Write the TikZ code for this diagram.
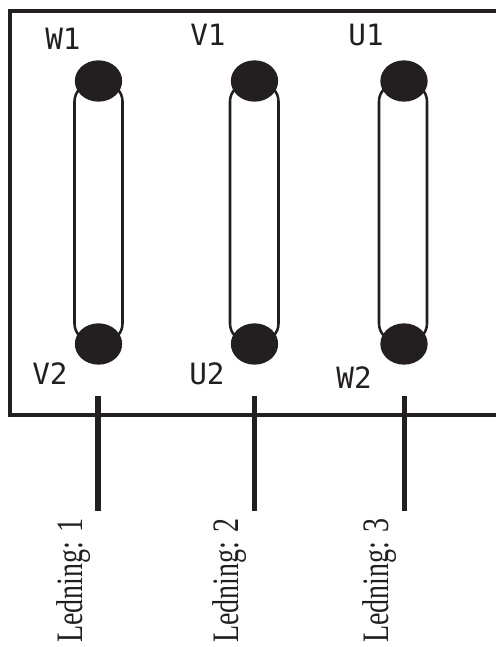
\documentclass[tikz,border=0pt]{standalone}
\usepackage{fontspec}
\usetikzlibrary{calc,shapes.geometric}
\newfontfamily\ledfont[FakeStretch=0.75]{Liberation Serif}
\newfontfamily\termfont{DejaVu Sans Mono}
\definecolor{ink}{HTML}{231F20}

\begin{document}
\begin{tikzpicture}[x=0.75pt,y=-0.75pt,
  terminal/.style={draw=none,fill=ink,ellipse,minimum width=35.5pt,minimum height=31pt,inner sep=0pt},
  termlabel/.style={text=ink,font=\termfont\fontsize{22}{22}\selectfont,inner sep=0pt},
  wirelabel/.style={text=ink,font=\ledfont\fontsize{28}{28}\selectfont,rotate=90,anchor=base west,inner sep=0pt},
  loopline/.style={draw=ink,line width=1.9pt,rounded corners=13pt},
  wire/.style={draw=ink,line width=4pt}]

% Page
\useasboundingbox (0,0) rectangle (496,647);

% Housing, open on the right
\coordinate (TR) at (497,11);
\coordinate (TL) at (10,11);
\coordinate (BL) at (10,415);
\coordinate (BR) at (497,415);
\draw[draw=ink,line width=2.3pt] (TR) -- (TL) -- (BL) -- (BR);

% Loops behind the terminals
\draw[loopline] (74.5,84) rectangle (122.5,341);
\draw[loopline] (230,84) rectangle (278.5,341);
\draw[loopline] (379,84) rectangle (427,341);

% Terminals
\node[terminal] (W1) at (98.5,81) {};
\node[terminal] (V1) at (254.5,81) {};
\node[terminal] (U1) at (404,81) {};
\node[terminal] (V2) at (98.5,344) {};
\node[terminal] (U2) at (254.5,344) {};
\node[terminal] (W2) at (404,344) {};

% Terminal labels
\node[termlabel] (W1text) at (63,39) {W1};
\node[termlabel] (V1text) at (208,35) {V1};
\node[termlabel] (U1text) at (366,35) {U1};
\node[termlabel] (V2text) at (50,374) {V2};
\node[termlabel] (U2text) at (207,374) {U2};
\node[termlabel] (W2text) at (354,378) {W2};

% Wires through the housing
\coordinate (A1) at (98,396);
\coordinate (A2) at (98,511);
\coordinate (B1) at (254.5,396);
\coordinate (B2) at (254.5,511);
\coordinate (C1) at (404.5,396);
\coordinate (C2) at (404.5,511);
\draw[wire] (A1) -- (A2);
\draw[wire] (B1) -- (B2);
\draw[wire] (C1) -- (C2);

% Wire labels
\node[wirelabel] (A3) at (82,643) {Ledning: 1};
\node[wirelabel] (B3) at (238,643) {Ledning: 2};
\node[wirelabel] (C3) at (388,643) {Ledning: 3};

\end{tikzpicture}
\end{document}
